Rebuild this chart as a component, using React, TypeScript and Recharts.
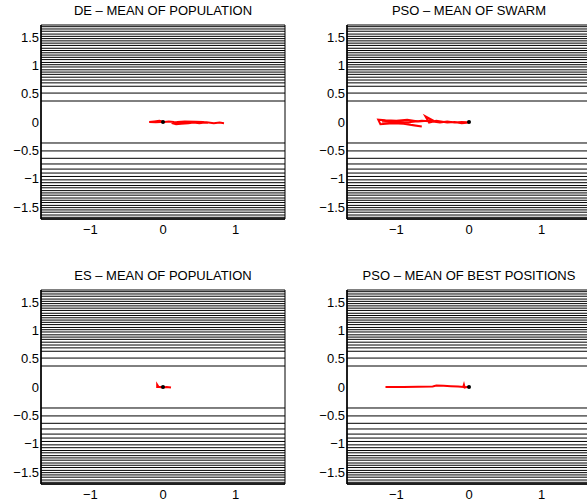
import React from 'react';
import {
  ComposedChart,
  Scatter,
  XAxis,
  YAxis,
  ReferenceLine,
  ReferenceArea,
} from 'recharts';

// contour levels (y only - lines are flat)
const contourLevels = [
  0.37, 0.51, 0.63, 0.69, 0.74, 0.79, 0.84, 0.88, 0.92, 0.97, 1.01, 1.05, 1.1, 1.14, 1.18, 1.22,
  1.26, 1.3, 1.35, 1.39, 1.43, 1.47, 1.51, 1.55, 1.6, 1.64, 1.68,
  -0.37, -0.51, -0.64, -0.74, -0.83, -0.9, -0.96, -1.02, -1.07, -1.12, -1.16, -1.21, -1.25,
  -1.29, -1.34, -1.38, -1.42, -1.47, -1.51, -1.55, -1.59, -1.64, -1.68,
];

const xTicks = [-1, 0, 1];
const yTicks = [-1.5, -1, -0.5, 0, 0.5, 1, 1.5];
const xDomain = [-1.68, 1.68];
const yDomain = [-1.71, 1.71];

const titles = [
  'DE – MEAN OF POPULATION',
  'PSO – MEAN OF SWARM',
  'ES – MEAN OF POPULATION',
  'PSO – MEAN OF BEST POSITIONS',
];

const deMean = [
  { x: 0.84, y: -0.02 }, { x: 0.78, y: -0.01 }, { x: 0.7, y: -0.02 }, { x: 0.6, y: -0.005 },
  { x: 0.5, y: -0.02 }, { x: 0.42, y: -0.01 }, { x: 0.35, y: -0.02 }, { x: 0.25, y: -0.03 },
  { x: 0.18, y: -0.04 }, { x: 0.12, y: -0.02 }, { x: 0.2, y: 0 }, { x: 0.3, y: 0.01 },
  { x: 0.45, y: 0.005 }, { x: 0.55, y: 0 }, { x: 0.62, y: -0.015 }, { x: 0.5, y: -0.01 },
  { x: 0.38, y: 0 }, { x: 0.28, y: -0.01 }, { x: 0.15, y: 0 }, { x: 0.08, y: 0.01 },
  { x: 0.02, y: 0 }, { x: -0.05, y: 0.02 }, { x: -0.12, y: 0.01 }, { x: -0.19, y: 0 },
  { x: -0.1, y: -0.005 }, { x: -0.03, y: 0 }, { x: 0, y: 0 },
];

const psoSwarm = [
  { x: 0, y: -0.01 }, { x: -0.1, y: -0.02 }, { x: -0.2, y: 0 }, { x: -0.3, y: -0.01 },
  { x: -0.45, y: 0.02 }, { x: -0.55, y: -0.01 }, { x: -0.6, y: 0.1 }, { x: -0.5, y: 0.03 },
  { x: -0.7, y: 0.01 }, { x: -0.85, y: 0.04 }, { x: -1.0, y: 0.02 }, { x: -1.15, y: 0.03 },
  { x: -1.25, y: 0.04 }, { x: -1.22, y: -0.04 }, { x: -1.05, y: -0.02 }, { x: -0.9, y: -0.03 },
  { x: -0.75, y: -0.06 }, { x: -0.65, y: -0.08 }, { x: -0.8, y: -0.05 }, { x: -0.95, y: -0.01 },
  { x: -1.1, y: 0 }, { x: -1.2, y: 0.01 }, { x: -1.0, y: -0.01 }, { x: -0.8, y: 0 },
  { x: -0.65, y: 0.02 }, { x: -0.5, y: 0.01 }, { x: -0.4, y: -0.01 }, { x: -0.3, y: 0.01 },
  { x: -0.2, y: -0.01 }, { x: -0.1, y: 0 }, { x: -0.03, y: -0.005 }, { x: 0, y: 0 },
];

const esMean = [
  { x: 0.11, y: -0.01 }, { x: 0.05, y: 0 }, { x: 0, y: -0.01 }, { x: -0.05, y: 0 },
  { x: -0.08, y: 0 }, { x: -0.08, y: 0.04 }, { x: -0.06, y: 0 }, { x: -0.02, y: 0 }, { x: 0, y: 0 },
];

const psoBest = [
  { x: -1.15, y: 0 }, { x: -0.9, y: 0 }, { x: -0.7, y: 0.005 }, { x: -0.5, y: 0.01 },
  { x: -0.45, y: 0.025 }, { x: -0.35, y: 0.02 }, { x: -0.25, y: 0.015 }, { x: -0.15, y: 0.01 },
  { x: -0.08, y: 0 }, { x: -0.07, y: 0.04 }, { x: -0.06, y: -0.01 }, { x: -0.03, y: 0 }, { x: 0, y: 0 },
];

const optimum = [{ x: 0, y: 0 }];

const series = [deMean, psoSwarm, esMean, psoBest];

const FONT = '"Liberation Sans", Arial, Helvetica, sans-serif';
const fmt = (v: number) => (v < 0 ? `\u2212${Math.abs(v)}` : `${v}`);
const NoShape = () => <g />;
const Dot = (p: any) => <circle cx={p.cx} cy={p.cy} r={2} fill="#000" />;

function Panel({ title, data, left, top }: { title: string; data: { x: number; y: number }[]; left: number; top: number }) {
  return (
    <div style={{ position: 'absolute', left, top, width: 300, height: 250 }}>
      <div
        style={{
          position: 'absolute',
          left: 41,
          width: 244,
          top: 3,
          textAlign: 'center',
          fontFamily: FONT,
          fontSize: 13,
          color: '#000',
          whiteSpace: 'nowrap',
        }}
      >
        {title}
      </div>
      <ComposedChart width={300} height={250} margin={{ top: 25, right: 15, bottom: 11, left: 6 }}>
        <XAxis
          type="number"
          dataKey="x"
          domain={xDomain}
          ticks={xTicks}
          allowDataOverflow
          tickFormatter={fmt}
          tick={{ fill: '#000', fontSize: 13, fontFamily: FONT }}
          tickLine={false}
          tickSize={4}
          tickMargin={2}
          axisLine={{ stroke: '#000', strokeWidth: 1.5 }}
          height={20}
        />
        <YAxis
          type="number"
          dataKey="y"
          domain={yDomain}
          ticks={yTicks}
          allowDataOverflow
          tickFormatter={fmt}
          tick={{ fill: '#000', fontSize: 13, fontFamily: FONT }}
          tickLine={false}
          tickSize={0}
          tickMargin={2}
          axisLine={{ stroke: '#000', strokeWidth: 1.5 }}
          width={35}
        />
        {contourLevels.map((lv) => (
          <ReferenceLine key={`c-${lv}`} y={lv} stroke="#000" strokeWidth={1} />
        ))}
        <ReferenceArea x1={xDomain[0]} x2={xDomain[1]} y1={yDomain[0]} y2={yDomain[1]} fill="none" stroke="#000" strokeWidth={1} />
        <Scatter
          data={data}
          line={{ stroke: '#ff0000', strokeWidth: 2 }}
          lineType="joint"
          shape={NoShape}
          isAnimationActive={false}
        />
        <Scatter data={optimum} shape={Dot} isAnimationActive={false} />
      </ComposedChart>
    </div>
  );
}

export default function App() {
  return (
    <div
      style={{
        position: 'absolute',
        left: 0,
        top: 0,
        width: 587,
        height: 502,
        overflow: 'hidden',
        background: '#fff',
      }}
    >
      <Panel title={titles[0]} data={series[0]} left={0} top={0} />
      <Panel title={titles[1]} data={series[1]} left={306} top={0} />
      <Panel title={titles[2]} data={series[2]} left={0} top={265} />
      <Panel title={titles[3]} data={series[3]} left={306} top={265} />
    </div>
  );
}
